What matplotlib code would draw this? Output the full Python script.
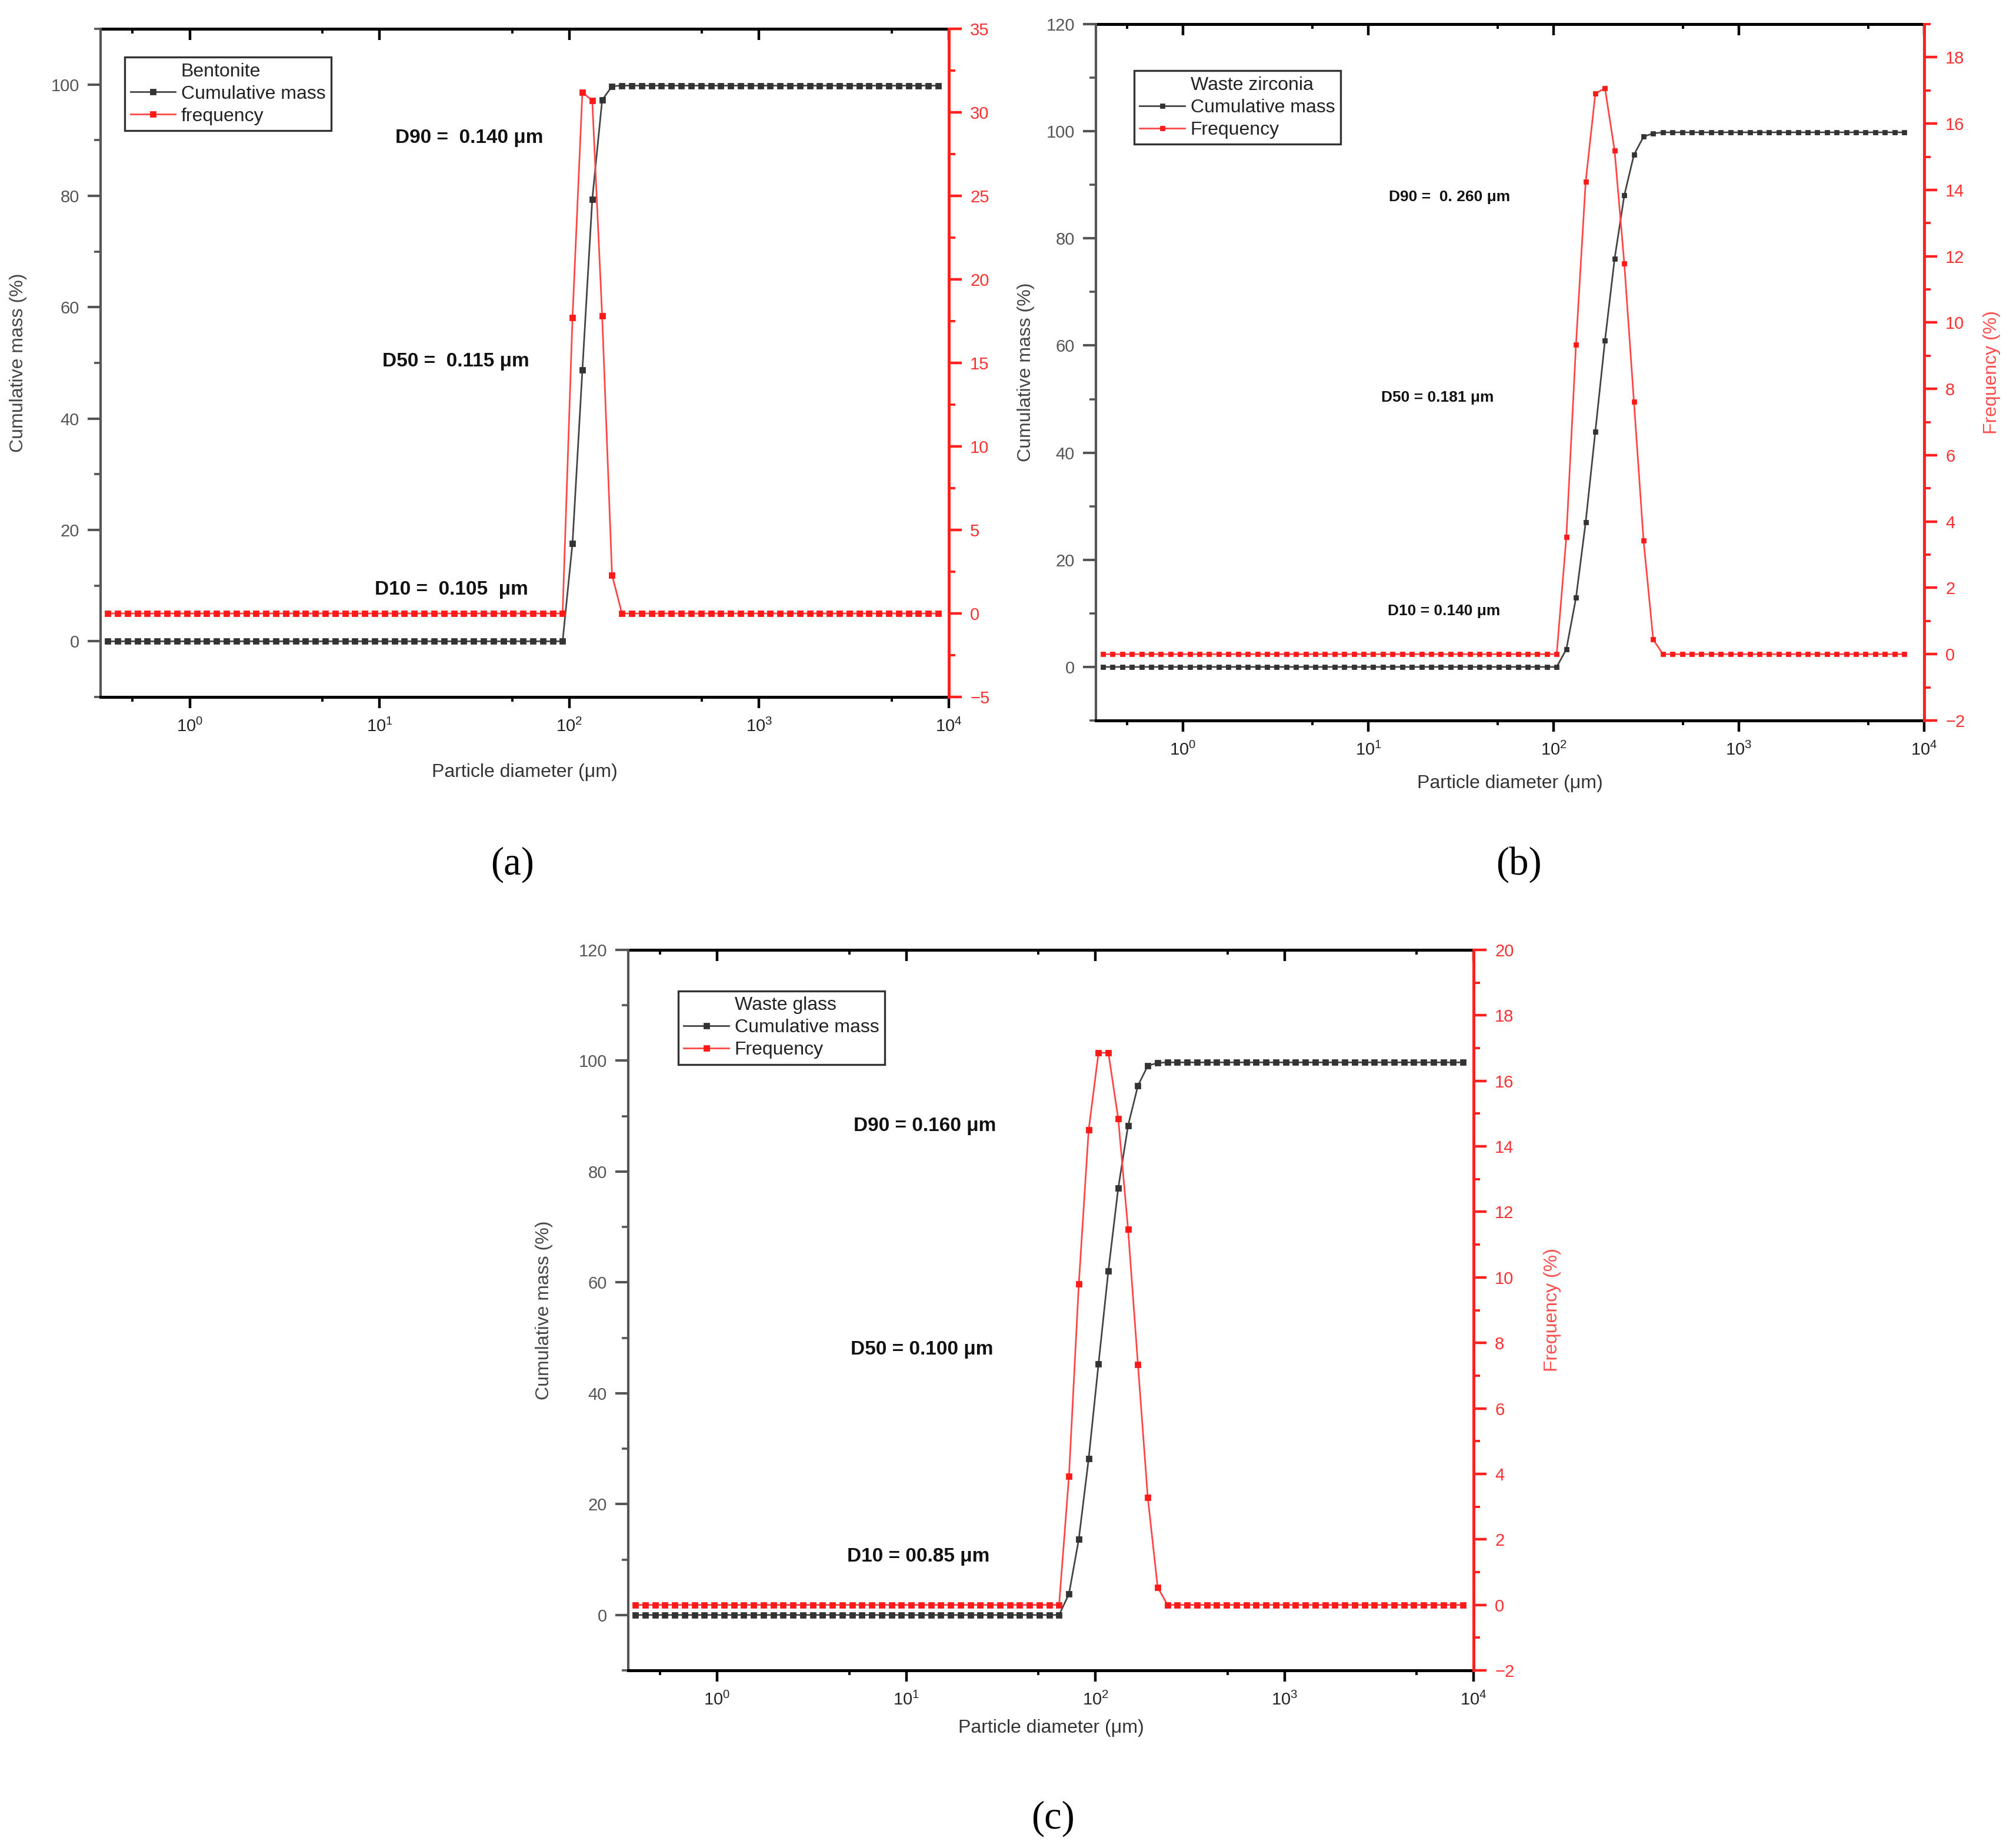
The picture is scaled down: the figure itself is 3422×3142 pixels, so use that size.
import matplotlib
matplotlib.use('Agg')
import matplotlib.pyplot as plt
import numpy as np
from matplotlib.lines import Line2D
from matplotlib.ticker import MultipleLocator, LogLocator, NullFormatter

W, H = 3422, 3142
plt.rcParams['font.family'] = ['Liberation Sans', 'DejaVu Sans']

# size classes of the analyser (um), same grid in all three panels
diameter = np.geomspace(0.37, 8800, 85)

# (a) bentonite
cum_a = [0.0] * 47 + [17.6, 48.7, 79.4, 97.2, 99.7] + [99.8] * 33
freq_a = [0.0] * 47 + [17.7, 31.2, 30.7, 17.8, 2.3] + [0.0] * 33

# (b) waste zirconia (one point less at the top end)
cum_b = [0.0] * 48 + [3.3, 12.9, 27.0, 43.9, 60.9, 76.2, 88.0, 95.6, 99.0, 99.6] + [99.8] * 26
freq_b = [0.0] * 48 + [3.53, 9.34, 14.24, 16.9, 17.07, 15.18, 11.79, 7.62, 3.42, 0.44] + [0.0] * 26

# (c) waste glass
cum_c = [0.0] * 44 + [3.8, 13.7, 28.2, 45.3, 62.1, 77.0, 88.3, 95.5, 99.1, 99.6] + [99.7] * 31
freq_c = [0.0] * 44 + [3.93, 9.8, 14.5, 16.86, 16.86, 14.85, 11.47, 7.34, 3.28, 0.54] + [0.0] * 31

notes_a = ['D90 =  0.140 μm', 'D50 =  0.115 μm', 'D10 =  0.105  μm']
notes_b = ['D90 =  0. 260 μm', 'D50 = 0.181 μm', 'D10 = 0.140 μm']
notes_c = ['D90 = 0.160 μm', 'D50 = 0.100 μm', 'D10 = 00.85 μm']

fig = plt.figure(figsize=(W / 200, H / 200), dpi=200)


def fx(x):
    return x / W


def fy(y):
    return 1 - y / H


def panel(box, cum, freq, title, freq_name, right_lim, right_step, right_minor,
          right_label, leg_xy, notes, note_pos, note_size, xlab_y, ylab_x, rlab_x,
          ms=2.6):
    l, r, t, b = box
    ax = fig.add_axes([fx(l), fy(b), (r - l) / W, (b - t) / H])
    ax.set_xscale('log')
    ax2 = ax.twinx()
    x = diameter[:len(cum)]
    black, = ax.plot(x, cum, '-s', color='#444444', lw=1.0, ms=ms,
                     mfc='#333333', mec='#333333')
    red, = ax2.plot(x, freq, '-s', color='#ff4545', lw=1.0, ms=ms,
                    mfc='#ff1a1a', mec='#ff1a1a')
    ax.set_xlim(0.339, 1e4)
    ax.set_ylim(-10, 120 if right_lim[1] < 30 else 110)
    ax2.set_ylim(*right_lim)

    # x axis: outward ticks at bottom, inward at top, minor only at 5
    ax.xaxis.set_minor_locator(LogLocator(base=10, subs=[5]))
    ax.xaxis.set_minor_formatter(NullFormatter())
    ax.tick_params(axis='x', which='major', direction='out', length=7, width=1.6,
                   labelsize=10.5, labelcolor='#222222', pad=6)
    ax.tick_params(axis='x', which='minor', direction='out', length=3, width=1.4)
    sec = ax.secondary_xaxis('top')
    sec.xaxis.set_minor_locator(LogLocator(base=10, subs=[5]))
    sec.xaxis.set_major_formatter(NullFormatter())
    sec.xaxis.set_minor_formatter(NullFormatter())
    sec.tick_params(axis='x', which='major', direction='in', length=7, width=1.6)
    sec.tick_params(axis='x', which='minor', direction='in', length=3, width=1.4)
    sec.spines['top'].set_linewidth(1.8)

    ax.yaxis.set_major_locator(MultipleLocator(20))
    ax.yaxis.set_minor_locator(MultipleLocator(10))
    ax.tick_params(axis='y', which='major', direction='out', length=8, width=1.5,
                   color='#555555', labelcolor='#555555', labelsize=10.5, pad=5)
    ax.tick_params(axis='y', which='minor', direction='out', length=4, width=1.3,
                   color='#555555')

    ax2.yaxis.set_major_locator(MultipleLocator(right_step))
    ax2.yaxis.set_minor_locator(MultipleLocator(right_minor))
    ax2.tick_params(axis='y', which='major', direction='out', length=8, width=1.6,
                    color='#ff2020', labelcolor='#ff3030', labelsize=10.5, pad=5)
    ax2.tick_params(axis='y', which='minor', direction='out', length=4, width=1.4,
                    color='#ff2020')

    ax.spines['left'].set_color('#555555')
    ax.spines['left'].set_linewidth(1.5)
    ax.spines['bottom'].set_linewidth(1.8)
    ax.spines['top'].set_visible(False)
    ax.spines['right'].set_visible(False)
    for s in ['left', 'top', 'bottom']:
        ax2.spines[s].set_visible(False)
    ax2.spines['right'].set_color('#ff2020')
    ax2.spines['right'].set_linewidth(1.8)

    title_entry = Line2D([], [], linestyle='none')
    leg = ax2.legend([title_entry, black, red], [title, 'Cumulative mass', freq_name],
                     loc='upper left', bbox_to_anchor=leg_xy, borderaxespad=0,
                     fancybox=False, edgecolor='#333333', fontsize=11.5,
                     handlelength=2.4, handletextpad=0.3, labelspacing=0.25,
                     borderpad=0.3, numpoints=1, framealpha=1)
    leg.get_frame().set_linewidth(1.2)
    for txt in leg.get_texts():
        txt.set_color('#222222')

    for s, (nx, ny) in zip(notes, note_pos):
        fig.text(fx(nx), fy(ny), s, ha='left', va='center', fontsize=note_size,
                 fontweight='bold', color='#111111')

    fig.text(fx((l + r) / 2), fy(xlab_y), 'Particle diameter (μm)', ha='center',
             va='center', fontsize=11.5, color='#333333')
    fig.text(fx(ylab_x), fy((t + b) / 2), 'Cumulative mass (%)', ha='center',
             va='center', rotation=90, fontsize=11.5, color='#444444')
    if right_label:
        fig.text(fx(rlab_x), fy((t + b) / 2), right_label, ha='center', va='center',
                 rotation=90, fontsize=11.5, color='#ff4d4d')
    return ax


panel((171, 1613, 49, 1185), cum_a, freq_a, 'Bentonite', 'frequency',
      (-5, 35), 5, 2.5, None, (0.0284, 0.9577), notes_a,
      [(672, 234), (650, 615), (637, 1002)], 12, 1313, 31, None)

panel((1863, 3271, 41, 1225), cum_b, freq_b, 'Waste zirconia', 'Frequency',
      (-2, 19), 2, 1, 'Frequency (%)', (0.046, 0.933), notes_b,
      [(2361, 335), (2348, 676), (2359, 1039)], 9.5, 1332, 1744, 3386, ms=2.0)

panel((1068, 2505, 1615, 2840), cum_c, freq_c, 'Waste glass', 'Frequency',
      (-2, 20), 2, 1, 'Frequency (%)', (0.059, 0.943), notes_c,
      [(1451, 1915), (1446, 2295), (1440, 2647)], 12, 2938, 925, 2639)

for lab, (px, py) in zip(['(a)', '(b)', '(c)'], [(871, 1470), (2582, 1470), (1790, 3092)]):
    fig.text(fx(px), fy(py), lab, ha='center', va='center', fontsize=24,
             family='Liberation Serif')

fig.savefig('out.png', dpi=200)
